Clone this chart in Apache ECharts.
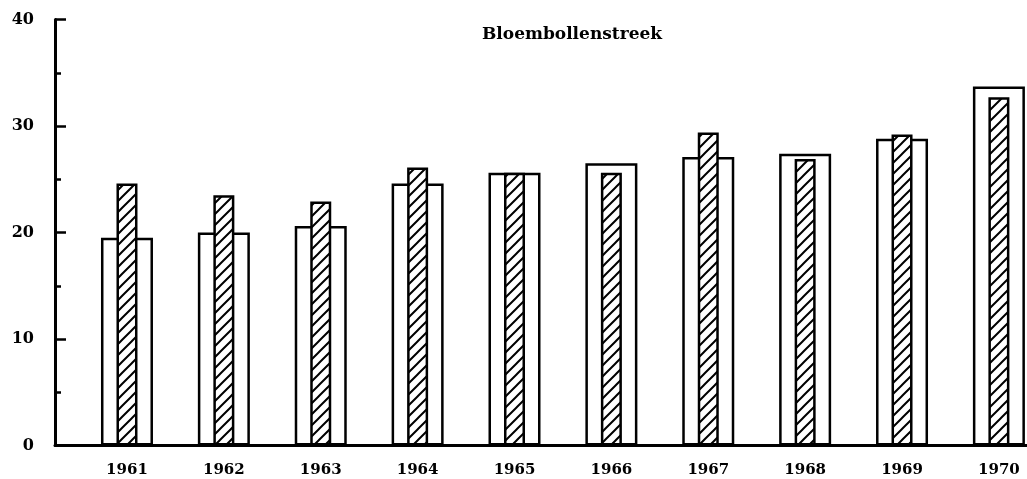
<!DOCTYPE html>
<html>
<head>
<meta charset="utf-8">
<script src="https://cdn.jsdelivr.net/npm/echarts@6/dist/echarts.min.js"></script>
<style>html,body{margin:0;padding:0;background:#fff}#c{width:1027px;height:479px}</style>
</head>
<body>
<div id="c"></div>
<script>
var years = [1961, 1962, 1963, 1964, 1965, 1966, 1967, 1968, 1969, 1970];
var openBars = [19.5, 20.0, 20.6, 24.6, 25.6, 26.5, 27.1, 27.4, 28.8, 33.7];
var hatchedBars = [24.6, 23.5, 22.9, 26.1, 25.6, 25.6, 29.4, 26.9, 29.2, 32.7];
var yTicks = [0, 10, 20, 30, 40];
var chartTitle = 'Bloembollenstreek';

var pc = document.createElement('canvas');
pc.width = 11; pc.height = 11;
var g = pc.getContext('2d');
g.fillStyle = '#fff'; g.fillRect(0, 0, 11, 11);
g.strokeStyle = '#000'; g.lineWidth = 2;
g.beginPath();
g.moveTo(-2, 13); g.lineTo(13, -2);
g.moveTo(-13, 13); g.lineTo(2, -2);
g.moveTo(9, 13); g.lineTo(24, -2);
g.stroke();

var font = '"DejaVu Serif", "Liberation Serif", serif';
var xMin = 1960.257, xMax = 1970.29;
function xAxisCfg(show) {
  return {
    type: 'value', min: xMin, max: xMax, show: show,
    axisLine: { show: true, lineStyle: { color: '#000', width: 3 } },
    axisTick: { show: false },
    splitLine: { show: false },
    axisLabel: {
      show: show, customValues: years, margin: 17,
      formatter: function (v) { return String(Math.round(v)); },
      color: '#000', fontFamily: font, fontWeight: 'bold', fontSize: 15
    }
  };
}

var chart = echarts.init(document.getElementById('c'));
chart.setOption({
  animation: false,
  backgroundColor: '#fff',
  title: {
    text: chartTitle, left: 567, top: 21, textAlign: 'center',
    textStyle: { fontFamily: font, fontWeight: 'bold', fontSize: 17, color: '#000' }
  },
  grid: { left: 55, right: 0, top: 19.5, bottom: 33.5 },
  xAxis: [xAxisCfg(true), xAxisCfg(false)],
  yAxis: {
    type: 'value', min: 0, max: 40, interval: 10,
    axisLine: { show: true, lineStyle: { color: '#000', width: 3 } },
    axisTick: { show: true, inside: true, length: 11, lineStyle: { color: '#000', width: 2.5 } },
    minorTick: { show: true, splitNumber: 2, length: 6, lineStyle: { color: '#000', width: 2.5 } },
    splitLine: { show: false },
    axisLabel: {
      margin: 21, color: '#000', fontFamily: font, fontWeight: 'bold', fontSize: 16,
      customValues: yTicks
    }
  },
  series: [
    {
      type: 'bar', xAxisIndex: 0, barWidth: 52, z: 2,
      data: years.map(function (y, i) { return [y, openBars[i]]; }),
      itemStyle: { color: '#fff', borderColor: '#000', borderWidth: 2.5 }
    },
    {
      type: 'bar', xAxisIndex: 1, barWidth: 21, z: 3,
      data: years.map(function (y, i) { return [y, hatchedBars[i]]; }),
      itemStyle: { color: { image: pc, repeat: 'repeat' }, borderColor: '#000', borderWidth: 2.5 }
    }
  ]
});
</script>
</body>
</html>
